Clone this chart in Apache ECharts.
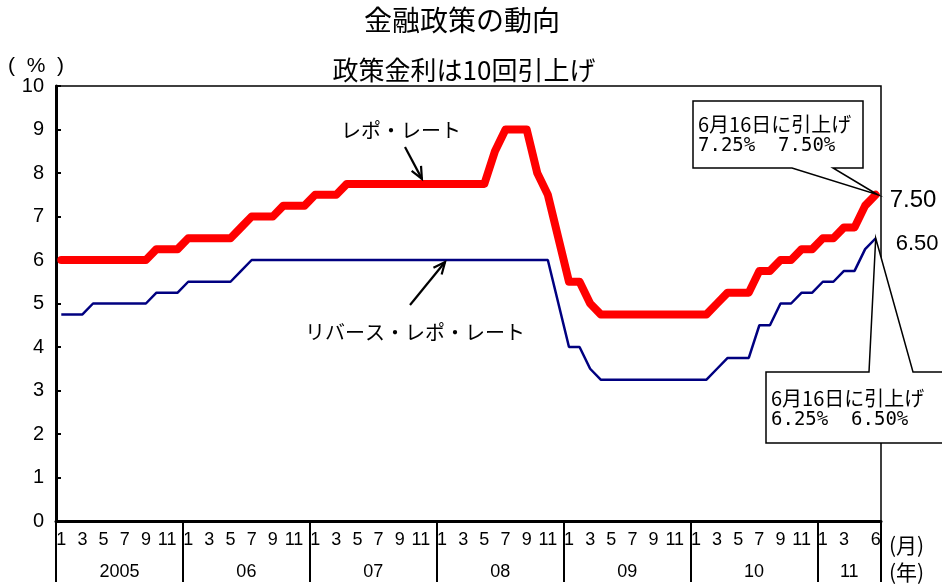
<!DOCTYPE html>
<html>
<head>
<meta charset="utf-8">
<script src="https://cdn.jsdelivr.net/npm/echarts@6/dist/echarts.min.js"></script>
<style>html,body{margin:0;padding:0;background:#fff;}#c{width:942px;height:585px;}</style>
</head>
<body>
<div id="c"></div>
<script>
// ---- data ----
const startYear = 2005;
const monthCount = 78; // 2005/01 .. 2011/06
const yearLabels = ['2005', '06', '07', '08', '09', '10', '11'];
const yearLabelPos = [6, 18, 30, 42, 54, 66, 75];
const yearSeparators = [0, 12, 24, 36, 48, 60, 72, 78];
const yTicks = [0, 1, 2, 3, 4, 5, 6, 7, 8, 9, 10];
const shownMonths = [1, 3, 5, 7, 9, 11];

// レポ・レート (monthly, %)
const repoRate = [
  6, 6, 6, 6, 6, 6, 6, 6, 6, 6.25, 6.25, 6.25,
  6.5, 6.5, 6.5, 6.5, 6.5, 6.75, 7, 7, 7, 7.25, 7.25, 7.25,
  7.5, 7.5, 7.5, 7.75, 7.75, 7.75, 7.75, 7.75, 7.75, 7.75, 7.75, 7.75,
  7.75, 7.75, 7.75, 7.75, 7.75, 8.5, 9, 9, 9, 8, 7.5, 6.5,
  5.5, 5.5, 5, 4.75, 4.75, 4.75, 4.75, 4.75, 4.75, 4.75, 4.75, 4.75,
  4.75, 4.75, 5, 5.25, 5.25, 5.25, 5.75, 5.75, 6, 6, 6.25, 6.25,
  6.5, 6.5, 6.75, 6.75, 7.25, 7.5
];
// リバース・レポ・レート (monthly, %)
const reverseRepoRate = [
  4.75, 4.75, 4.75, 5, 5, 5, 5, 5, 5, 5.25, 5.25, 5.25,
  5.5, 5.5, 5.5, 5.5, 5.5, 5.75, 6, 6, 6, 6, 6, 6,
  6, 6, 6, 6, 6, 6, 6, 6, 6, 6, 6, 6,
  6, 6, 6, 6, 6, 6, 6, 6, 6, 6, 6, 5,
  4, 4, 3.5, 3.25, 3.25, 3.25, 3.25, 3.25, 3.25, 3.25, 3.25, 3.25,
  3.25, 3.25, 3.5, 3.75, 3.75, 3.75, 4.5, 4.5, 5, 5, 5.25, 5.25,
  5.5, 5.5, 5.75, 5.75, 6.25, 6.5
];

const categories = [];
for (let i = 0; i < monthCount; i++) {
  categories.push((startYear + Math.floor(i / 12)) + '/' + ((i % 12) + 1));
}

const NUM_FONT = '"Liberation Sans", Arial, sans-serif';
const JP_FONT = '"Noto Sans CJK JP", sans-serif';
const MONO_FONT = '"DejaVu Sans Mono", "Liberation Mono", monospace';

const chart = echarts.init(document.getElementById('c'), null, {renderer: 'canvas'});

chart.setOption({
  animation: false,
  backgroundColor: '#fff',
  grid: {left: 56, right: 61, top: 86, bottom: 64, show: true, borderColor: '#000', borderWidth: 1.5, backgroundColor: 'transparent'},
  xAxis: [
    {
      type: 'category',
      data: categories,
      boundaryGap: true,
      axisLine: {show: true, lineStyle: {color: '#000', width: 3}},
      axisTick: {show: false},
      splitLine: {show: false},
      axisLabel: {
        interval: function (index) {
          const m = (index % 12) + 1;
          if (index === monthCount - 1) return true;
          if (index >= monthCount - 2) return false;
          return shownMonths.indexOf(m) >= 0;
        },
        formatter: function (value, index) {
          return String((index % 12) + 1);
        },
        color: '#000', fontFamily: NUM_FONT, fontSize: 18, margin: 10
      }
    },
    {
      type: 'value',
      min: 0, max: monthCount,
      position: 'bottom',
      axisLine: {show: false},
      splitLine: {show: false},
      axisTick: {show: true, customValues: yearSeparators, length: 61, lineStyle: {color: '#000', width: 2}},
      axisLabel: {
        customValues: yearLabelPos,
        formatter: function (v) {
          const k = yearLabelPos.indexOf(v);
          return k >= 0 ? yearLabels[k] : '';
        },
        color: '#000', fontFamily: NUM_FONT, fontSize: 18, margin: 42
      }
    }
  ],
  yAxis: {
    type: 'value', min: 0, max: 10, interval: 1,
    axisLine: {show: true, lineStyle: {color: '#000', width: 3}},
    axisTick: {show: true, inside: true, length: 5, lineStyle: {color: '#000', width: 2}},
    splitLine: {show: false},
    axisLabel: {color: '#000', fontFamily: NUM_FONT, fontSize: 20, margin: 12,
      formatter: function (v) { return yTicks.indexOf(v) >= 0 ? String(v) : ''; }}
  },
  series: [
    {
      name: 'レポ・レート', type: 'line', data: repoRate, symbol: 'none', z: 3,
      lineStyle: {color: '#ff0000', width: 8, cap: 'round', join: 'round'}
    },
    {
      name: 'リバース・レポ・レート', type: 'line', data: reverseRepoRate, symbol: 'none', z: 3,
      lineStyle: {color: '#000080', width: 2.5}
    }
  ]
});

function px(i, v) {
  return chart.convertToPixel({xAxisIndex: 0, yAxisIndex: 0}, [i, v]);
}
function txt(x, y, text, size, font, align) {
  return {
    type: 'text', x: x, y: y, z: 100,
    style: {text: text, fontSize: size, fontFamily: font, fill: '#000',
      align: align || 'left', textAlign: align || 'left',
      verticalAlign: 'middle', textVerticalAlign: 'middle'}
  };
}
function arrow(x1, y1, x2, y2) {
  const ang = Math.atan2(y2 - y1, x2 - x1);
  const L = 13, a = 0.42;
  const p1 = [x2 - L * Math.cos(ang - a), y2 - L * Math.sin(ang - a)];
  const p2 = [x2 - L * Math.cos(ang + a), y2 - L * Math.sin(ang + a)];
  return [
    {type: 'line', z: 100, shape: {x1: x1, y1: y1, x2: x2, y2: y2}, style: {stroke: '#000', lineWidth: 2.2}},
    {type: 'polyline', z: 100, shape: {points: [p1, [x2, y2], p2]}, style: {stroke: '#000', lineWidth: 2.2, fill: null}}
  ];
}

const last = monthCount - 1;
const redEnd = px(last, repoRate[last]);
const blueEnd = px(last, reverseRepoRate[last]);
const redTip = px(34, repoRate[34]);
const blueTip = px(36, reverseRepoRate[36]);

const g = [];
// titles
g.push(txt(462, 20, '金融政策の動向', 28, JP_FONT, 'center'));
g.push(txt(464, 70, '政策金利は10回引上げ', 26, JP_FONT, 'center'));
g.push(txt(8, 66, '(  %  )', 21, NUM_FONT, 'left'));
g.push(txt(889, 545, '(月)', 21, JP_FONT, 'left'));
g.push(txt(889, 572, '(年)', 21, JP_FONT, 'left'));

// series annotations
g.push(txt(401, 130, 'レポ・レート', 20, JP_FONT, 'center'));
g.push(txt(415, 332, 'リバース・レポ・レート', 20, JP_FONT, 'center'));
g.push.apply(g, arrow(405, 147, redTip[0] + 1, redTip[1] - 5));
g.push.apply(g, arrow(410, 305, blueTip[0] + 3, blueTip[1] + 2));

// end value labels
g.push(txt(redEnd[0] + 14, redEnd[1] + 6, '7.50', 24, NUM_FONT, 'left'));
g.push(txt(blueEnd[0] + 20, blueEnd[1] + 6, '6.50', 22, NUM_FONT, 'left'));

// top callout (レポ)
g.push({
  type: 'polygon', z: 90,
  shape: {points: [[693, 101], [863, 101], [863, 168], [833, 168], [redEnd[0] + 2, redEnd[1]], [792, 168], [693, 168]]},
  style: {fill: '#fff', stroke: '#000', lineWidth: 1.5}
});
g.push(txt(698, 124, '6月16日に引上げ', 20, JP_FONT, 'left'));
g.push(txt(698, 146, '7.25%  7.50%', 19, MONO_FONT, 'left'));

// bottom callout (リバース)
g.push({
  type: 'polygon', z: 90,
  shape: {points: [[766, 372], [869, 372], [blueEnd[0], blueEnd[1]], [913, 372], [950, 372], [950, 443], [766, 443]]},
  style: {fill: '#fff', stroke: '#000', lineWidth: 1.5}
});
g.push(txt(771, 398, '6月16日に引上げ', 20, JP_FONT, 'left'));
g.push(txt(771, 420, '6.25%  6.50%', 19, MONO_FONT, 'left'));

chart.setOption({graphic: {elements: g}});
</script>
</body>
</html>
